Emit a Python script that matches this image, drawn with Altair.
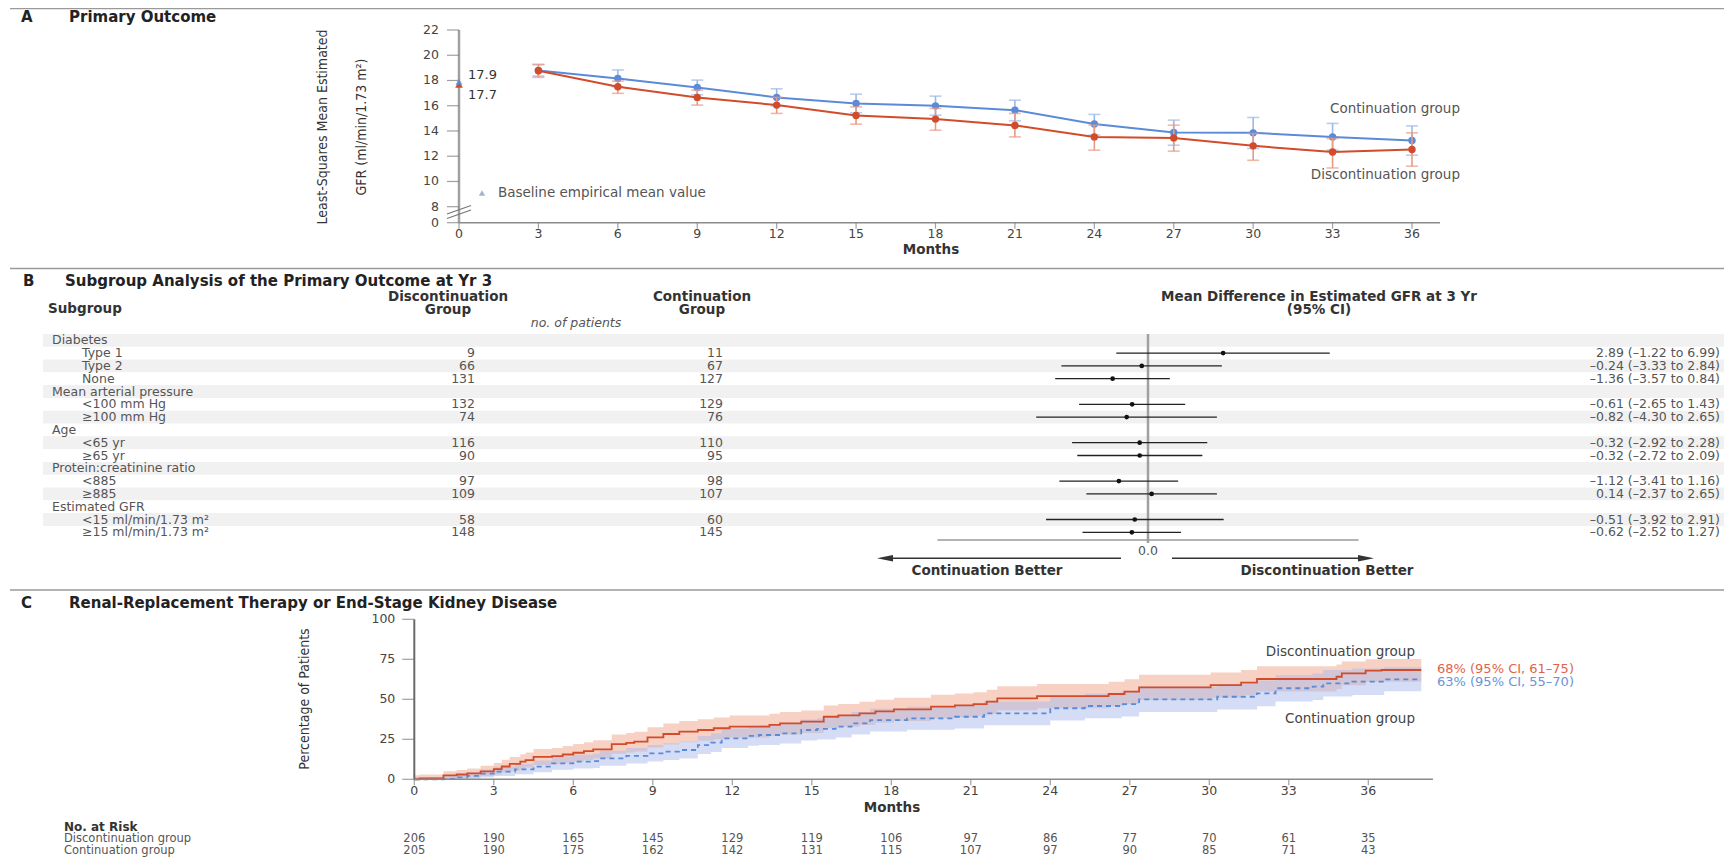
import altair as alt
import pandas as pd

FONT = "DejaVu Sans"
NARROW = "Liberation Sans Narrow, DejaVu Sans Condensed, sans-serif"

# ---------------- Panel A data ----------------
a_months = [3, 6, 9, 12, 15, 18, 21, 24, 27, 30, 33, 36]
a_cont = [18.80, 18.16, 17.45, 16.66, 16.18, 15.99, 15.65, 14.56, 13.88, 13.85, 13.53, 13.25]
a_cont_lo = [18.35, 17.50, 16.87, 15.98, 15.44, 15.25, 14.80, 13.67, 12.87, 12.61, 12.48, 12.08]
a_cont_hi = [19.25, 18.83, 18.03, 17.34, 16.92, 16.76, 16.44, 15.31, 14.86, 15.07, 14.60, 14.40]
a_disc = [18.77, 17.50, 16.66, 16.05, 15.23, 14.94, 14.44, 13.53, 13.45, 12.82, 12.34, 12.53]
a_disc_lo = [18.25, 16.98, 16.05, 15.39, 14.54, 14.06, 13.53, 12.48, 12.40, 11.68, 11.07, 11.21]
a_disc_hi = [19.28, 17.95, 17.24, 16.66, 15.91, 15.79, 15.39, 14.46, 14.46, 13.80, 13.40, 13.85]
a_base_cont = 17.9
a_base_disc = 17.7
a_xticks = [0, 3, 6, 9, 12, 15, 18, 21, 24, 27, 30, 33, 36]
a_yticks = [0, 8, 10, 12, 14, 16, 18, 20, 22]

# ---------------- Panel B data ----------------
b_labels = ["Diabetes", "Type 1", "Type 2", "None", "Mean arterial pressure",
            "<100 mm Hg", "\u2265100 mm Hg", "Age", "<65 yr", "\u226565 yr",
            "Protein:creatinine ratio", "<885", "\u2265885", "Estimated GFR",
            "<15 ml/min/1.73 m\u00b2", "\u226515 ml/min/1.73 m\u00b2"]
b_is_group = [1, 0, 0, 0, 1, 0, 0, 1, 0, 0, 1, 0, 0, 1, 0, 0]
b_n_disc = [None, 9, 66, 131, None, 132, 74, None, 116, 90, None, 97, 109, None, 58, 148]
b_n_cont = [None, 11, 67, 127, None, 129, 76, None, 110, 95, None, 98, 107, None, 60, 145]
b_md = [None, 2.89, -0.24, -1.36, None, -0.61, -0.82, None, -0.32, -0.32, None, -1.12, 0.14, None, -0.51, -0.62]
b_lo = [None, -1.22, -3.33, -3.57, None, -2.65, -4.30, None, -2.92, -2.72, None, -3.41, -2.37, None, -3.92, -2.52]
b_hi = [None, 6.99, 2.84, 0.84, None, 1.43, 2.65, None, 2.28, 2.09, None, 1.16, 2.65, None, 2.91, 1.27]

# ---------------- Panel C data ----------------
c_disc_t = [0, 0.2, 1.1, 1.6, 2.0, 2.5, 3.0, 3.3, 3.6, 4.0, 4.2, 4.5, 5.2, 5.6, 6.0, 6.4, 6.75, 7.45, 8.0, 8.3,
            8.8, 9.4, 10.0, 10.7, 11.3, 11.9, 13.4, 13.8, 14.6, 15.45, 16.0, 16.8, 17.4, 18.1, 19.5, 20.4, 21.1,
            21.6, 22.0, 23.5, 26.2, 26.8, 27.35, 30.05, 31.2, 31.8, 34.8, 35.0, 35.9, 36.5, 38.0]
c_disc_p = [0, 0.5, 2.5, 3.0, 3.7, 5.0, 6.4, 8.0, 9.6, 11.0, 12.0, 14.0, 14.5, 15.5, 16.6, 17.6, 18.7, 22.0, 22.8,
            23.5, 26.2, 28.3, 29.8, 30.8, 31.9, 32.9, 34.0, 35.0, 36.0, 39.1, 40.0, 41.2, 42.5, 43.7, 45.4, 46.2,
            47.0, 48.5, 50.6, 52.0, 53.3, 54.8, 57.5, 58.9, 60.4, 62.7, 64.1, 66.2, 67.9, 68.3, 68.3]
c_disc_lo = [0, 0, 0.5, 0.8, 1.2, 2.0, 3.0, 4.2, 5.4, 6.5, 7.3, 9.0, 9.4, 10.2, 11.1, 12.0, 13.0, 16.0, 16.7, 17.3,
             19.8, 21.8, 23.2, 24.1, 25.1, 26.0, 27.0, 28.0, 29.0, 32.0, 32.9, 34.0, 35.3, 36.4, 38.0, 38.8, 39.6,
             41.0, 43.1, 44.4, 45.6, 47.0, 49.6, 51.0, 52.5, 54.8, 56.4, 58.8, 60.8, 61.0, 61.0]
c_disc_hi = [2.5, 3.0, 5.0, 5.8, 6.8, 8.5, 10.2, 12.2, 14.0, 15.6, 16.8, 19.0, 19.6, 20.8, 22.0, 23.2, 24.4, 28.0,
             28.9, 29.7, 32.6, 34.8, 36.4, 37.5, 38.7, 39.8, 41.0, 42.0, 43.0, 46.2, 47.1, 48.4, 49.7, 51.0, 52.8,
             53.6, 54.4, 56.0, 58.1, 59.6, 61.0, 62.6, 65.4, 66.8, 68.3, 70.6, 71.8, 73.6, 75.0, 75.2, 75.2]
c_cont_t = [0, 1.1, 1.5, 2.0, 2.5, 3.0, 3.8, 4.5, 5.2, 6.0, 6.75, 7.0, 8.0, 8.8, 9.4, 10.0, 10.7, 11.2, 11.6, 12.6,
            13.0, 13.8, 14.6, 15.2, 15.9, 16.5, 17.2, 18.6, 20.4, 21.5, 24.0, 25.3, 26.7, 27.35, 30.3, 31.8, 32.5,
            33.9, 34.3, 35.4, 36.6, 38.0]
c_cont_p = [0, 0.3, 1.2, 2.1, 3.5, 4.8, 6.2, 7.9, 10.0, 11.0, 11.4, 13.1, 14.6, 16.2, 17.3, 18.3, 21.4, 22.9, 25.6,
            27.1, 27.7, 28.7, 30.8, 31.5, 32.9, 35.0, 37.0, 38.1, 39.1, 41.2, 44.4, 45.8, 47.0, 50.0, 51.6, 53.7,
            56.9, 57.9, 60.0, 61.0, 62.5, 62.5]
c_cont_lo = [0, 0, 0, 0.4, 1.2, 2.1, 3.1, 4.4, 6.0, 6.8, 7.1, 8.5, 9.8, 11.2, 12.1, 13.0, 15.8, 17.1, 19.5, 20.9,
             21.4, 22.3, 24.2, 24.8, 26.1, 28.0, 29.9, 30.9, 31.8, 33.8, 36.8, 38.1, 39.2, 42.1, 43.6, 45.6, 48.7,
             49.6, 51.7, 52.7, 55.0, 55.0]
c_cont_hi = [1.5, 2.0, 3.0, 4.4, 6.2, 7.8, 9.6, 11.7, 14.2, 15.4, 15.9, 17.9, 19.6, 21.4, 22.6, 23.7, 27.1, 28.8,
             31.7, 33.4, 34.0, 35.1, 37.4, 38.2, 39.7, 42.0, 44.1, 45.3, 46.4, 48.6, 52.0, 53.5, 54.8, 57.9, 59.6,
             61.8, 65.1, 66.2, 68.3, 69.3, 70.0, 70.0]
c_xticks = [0, 3, 6, 9, 12, 15, 18, 21, 24, 27, 30, 33, 36]
c_yticks = [0, 25, 50, 75, 100]
risk_months = [0, 3, 6, 9, 12, 15, 18, 21, 24, 27, 30, 33, 36]
risk_disc = [206, 190, 165, 145, 129, 119, 106, 97, 86, 77, 70, 61, 35]
risk_cont = [205, 190, 175, 162, 142, 131, 115, 107, 97, 90, 85, 71, 43]

# ---------------- layout helpers ----------------
W, H = 1716, 849
OX, OY = 8, 8


def px(v):
    return v - OX


def py(v):
    return v - OY


RED = "#d24b2a"
BLUE = "#5a8bd8"
RED_BAR = "#e89a85"
BLUE_BAR = "#9db8e6"
AX = "#8a8a8a"
TXT = "#333333"
GRAY = "#555555"

xA = alt.Scale(domain=[0, 36], range=[px(459), px(1412)], nice=False, zero=False)
yA = alt.Scale(domain=[0, 8, 22], range=[py(222.7), py(206.7), py(30)], nice=False, zero=False)
yB = alt.Scale(domain=[0, 15], range=[py(340.3), py(532.3)], nice=False, zero=False)
xB = alt.Scale(domain=[-8, 8], range=[px(940), px(1356)], nice=False, zero=False)
xC = alt.Scale(domain=[0, 36], range=[px(414.3), px(1368.3)], nice=False, zero=False)
yC = alt.Scale(domain=[0, 100], range=[py(779.3), py(619.3)], nice=False, zero=False)


def txt(s, x, y, size=13, weight="normal", color=TXT, align="left", angle=0, font=FONT, style="normal"):
    df = pd.DataFrame({"t": [s]})
    return alt.Chart(df).mark_text(
        align=align, baseline="middle", fontSize=size, fontWeight=weight, color=color,
        angle=angle, font=font, fontStyle=style
    ).encode(text="t:N", x=alt.value(px(x)), y=alt.value(py(y)))


def seg(x1, y1, x2, y2, color=AX, w=1.5):
    df = pd.DataFrame({"k": [0]})
    return alt.Chart(df).mark_rule(color=color, strokeWidth=w).encode(
        x=alt.value(px(x1)), x2=alt.value(px(x2)), y=alt.value(py(y1)), y2=alt.value(py(y2)))


def fmt(v):
    return f"{v:.2f}".replace("-", "\u2013")


layers = []

# separators
layers.append(seg(10, 8.6, 1732, 8.6, color="#9a9a9a", w=1.4))
layers.append(seg(10, 268.5, 1732, 268.5, color="#9a9a9a", w=1.4))
layers.append(seg(10, 590, 1732, 590, color="#9a9a9a", w=1.4))

# ================= PANEL A =================
layers.append(txt("A", 21, 17, size=15, weight="bold", color="#222222"))
layers.append(txt("Primary Outcome", 69, 17, size=15, weight="bold", color="#222222"))

# axes
axA = pd.DataFrame({"x0": [0], "x1": [37.06], "y0": [0], "y1": [22]})
layers.append(alt.Chart(axA).mark_rule(color="#a0a0a0", strokeWidth=2.5).encode(
    x=alt.X("x0:Q", scale=xA, axis=None), y=alt.Y("y0:Q", scale=yA, axis=None), y2="y1:Q"))
layers.append(alt.Chart(axA).mark_rule(color=AX, strokeWidth=1.5).encode(
    x=alt.X("x0:Q", scale=xA, axis=None), x2="x1:Q", y=alt.Y("y0:Q", scale=yA, axis=None)))

dfAx = pd.DataFrame({"m": a_xticks, "b": [0] * len(a_xticks), "lab": [str(v) for v in a_xticks]})
layers.append(alt.Chart(dfAx).mark_tick(orient="vertical", size=6, thickness=1.2, color="#777777", yOffset=3).encode(
    x=alt.X("m:Q", scale=xA, axis=None), y=alt.Y("b:Q", scale=yA, axis=None)))
layers.append(alt.Chart(dfAx).mark_text(fontSize=12.5, font=FONT, color="#444444", baseline="middle", dy=11).encode(
    x=alt.X("m:Q", scale=xA, axis=None), y=alt.Y("b:Q", scale=yA, axis=None), text="lab:N"))

dfAy = pd.DataFrame({"v": a_yticks, "b": [0] * len(a_yticks), "lab": [str(v) for v in a_yticks]})
layers.append(alt.Chart(dfAy).mark_tick(orient="horizontal", size=12, thickness=1.2, color="#777777", xOffset=-6).encode(
    x=alt.X("b:Q", scale=xA, axis=None), y=alt.Y("v:Q", scale=yA, axis=None)))
layers.append(alt.Chart(dfAy).mark_text(fontSize=12.5, font=FONT, color="#444444", align="right", baseline="middle", dx=-20).encode(
    x=alt.X("b:Q", scale=xA, axis=None), y=alt.Y("v:Q", scale=yA, axis=None), text="lab:N"))

# axis break marks
layers.append(seg(447, 214, 471, 205.5, color="#777777", w=1.3))
layers.append(seg(447, 218.5, 471, 210, color="#777777", w=1.3))

# axis titles
layers.append(txt("Least-Squares Mean Estimated", 323, 127, size=14, angle=270, font=NARROW, align="center"))
layers.append(txt("GFR (ml/min/1.73 m\u00b2)", 362, 127, size=14, angle=270, font=NARROW, align="center"))
layers.append(txt("Months", 931, 250, size=13.5, weight="bold", align="center"))


def a_series(mean, lo, hi, line_color, bar_color):
    df = pd.DataFrame({"m": a_months, "v": mean, "lo": lo, "hi": hi})
    base = alt.Chart(df)
    xenc = alt.X("m:Q", scale=xA, axis=None)
    out = [
        base.mark_rule(color=bar_color, strokeWidth=1.6).encode(
            x=xenc, y=alt.Y("lo:Q", scale=yA, axis=None), y2="hi:Q"),
        base.mark_tick(orient="horizontal", size=12, thickness=1.6, color=bar_color).encode(
            x=xenc, y=alt.Y("lo:Q", scale=yA, axis=None)),
        base.mark_tick(orient="horizontal", size=12, thickness=1.6, color=bar_color).encode(
            x=xenc, y=alt.Y("hi:Q", scale=yA, axis=None)),
        base.mark_line(color=line_color, strokeWidth=2).encode(
            x=xenc, y=alt.Y("v:Q", scale=yA, axis=None)),
        base.mark_point(filled=True, shape="circle", size=55, color=line_color, opacity=1).encode(
            x=xenc, y=alt.Y("v:Q", scale=yA, axis=None)),
    ]
    return out


layers += a_series(a_cont, a_cont_lo, a_cont_hi, BLUE, BLUE_BAR)
layers += a_series(a_disc, a_disc_lo, a_disc_hi, RED, RED_BAR)

dfBase2 = pd.DataFrame({"m": [0], "v": [a_base_disc]})
layers.append(alt.Chart(dfBase2).mark_point(filled=True, shape="triangle-up", size=60, color=RED, opacity=1).encode(
    x=alt.X("m:Q", scale=xA, axis=None), y=alt.Y("v:Q", scale=yA, axis=None)))
dfBase = pd.DataFrame({"m": [0], "v": [a_base_cont]})
layers.append(alt.Chart(dfBase).mark_point(filled=True, shape="triangle-up", size=45, color=BLUE, opacity=0.9).encode(
    x=alt.X("m:Q", scale=xA, axis=None), y=alt.Y("v:Q", scale=yA, axis=None)))

layers.append(txt("17.9", 468, 75, size=13))
layers.append(txt("17.7", 468, 95, size=13))
layers.append(txt("Continuation group", 1460, 109, size=13.5, color=GRAY, align="right"))
layers.append(txt("Discontinuation group", 1460, 175, size=13.5, color=GRAY, align="right"))

dfLeg = pd.DataFrame({"k": [0]})
layers.append(alt.Chart(dfLeg).mark_point(filled=True, shape="triangle-up", size=40, color="#a5b4c8", opacity=1).encode(
    x=alt.value(px(482)), y=alt.value(py(193))))
layers.append(txt("Baseline empirical mean value", 498, 193, size=13.5, color=GRAY))

# ================= PANEL B =================
layers.append(txt("B", 23, 281, size=15, weight="bold", color="#222222"))
layers.append(txt("Subgroup Analysis of the Primary Outcome at Yr 3", 65, 281, size=15, weight="bold", color="#222222"))
layers.append(txt("Subgroup", 48, 309, size=13.5, weight="bold"))
layers.append(txt("Discontinuation", 448, 296.5, size=13.5, weight="bold", align="center"))
layers.append(txt("Group", 448, 310, size=13.5, weight="bold", align="center"))
layers.append(txt("Continuation", 702, 296.5, size=13.5, weight="bold", align="center"))
layers.append(txt("Group", 702, 310, size=13.5, weight="bold", align="center"))
layers.append(txt("no. of patients", 576, 323, size=12.5, color=GRAY, align="center", style="italic"))
layers.append(txt("Mean Difference in Estimated GFR at 3 Yr", 1319, 296.5, size=13.5, weight="bold", align="center"))
layers.append(txt("(95% CI)", 1319, 310, size=13.5, weight="bold", align="center"))

rows = list(range(len(b_labels)))
dfShade = pd.DataFrame({"r": [r for r in rows if r % 2 == 0]})
layers.append(alt.Chart(dfShade).transform_calculate(r0="datum.r - 0.5", r1="datum.r + 0.5").mark_rect(
    color="#f1f1f1").encode(
    x=alt.value(px(43)), x2=alt.value(px(1730)),
    y=alt.Y("r0:Q", scale=yB, axis=None), y2="r1:Q"))

dfGroups = pd.DataFrame({"r": [r for r in rows if b_is_group[r]],
                         "label": [b_labels[r] for r in rows if b_is_group[r]]})
dfItems = pd.DataFrame({
    "r": [r for r in rows if not b_is_group[r]],
    "label": [b_labels[r] for r in rows if not b_is_group[r]],
    "nd": [str(b_n_disc[r]) for r in rows if not b_is_group[r]],
    "nc": [str(b_n_cont[r]) for r in rows if not b_is_group[r]],
    "md": [b_md[r] for r in rows if not b_is_group[r]],
    "lo": [b_lo[r] for r in rows if not b_is_group[r]],
    "hi": [b_hi[r] for r in rows if not b_is_group[r]],
    "ci": [f"{fmt(b_md[r])} ({fmt(b_lo[r])} to {fmt(b_hi[r])})" for r in rows if not b_is_group[r]],
})

yrow = alt.Y("r:Q", scale=yB, axis=None)
layers.append(alt.Chart(dfGroups).mark_text(align="left", baseline="middle", fontSize=12.5, font=FONT, color=GRAY).encode(
    x=alt.value(px(52)), y=yrow, text="label:N"))
layers.append(alt.Chart(dfItems).mark_text(align="left", baseline="middle", fontSize=12.5, font=FONT, color=GRAY).encode(
    x=alt.value(px(82)), y=yrow, text="label:N"))
layers.append(alt.Chart(dfItems).mark_text(align="right", baseline="middle", fontSize=12.5, font=FONT, color=GRAY).encode(
    x=alt.value(px(475)), y=yrow, text="nd:N"))
layers.append(alt.Chart(dfItems).mark_text(align="right", baseline="middle", fontSize=12.5, font=FONT, color=GRAY).encode(
    x=alt.value(px(723)), y=yrow, text="nc:N"))
layers.append(alt.Chart(dfItems).mark_text(align="right", baseline="middle", fontSize=12.5, font=FONT, color=GRAY).encode(
    x=alt.value(px(1720)), y=yrow, text="ci:N"))

# forest plot
dfZero = pd.DataFrame({"x": [0], "a": [-8.1], "b": [8.1], "t": ["0.0"]})
layers.append(alt.Chart(dfZero).mark_rule(color="#a0a0a0", strokeWidth=2.5).encode(
    x=alt.X("x:Q", scale=xB, axis=None), y=alt.value(py(334)), y2=alt.value(py(543))))
layers.append(alt.Chart(dfZero).mark_rule(color="#9a9a9a", strokeWidth=1.3).encode(
    x=alt.X("a:Q", scale=xB, axis=None), x2="b:Q", y=alt.value(py(540))))
layers.append(alt.Chart(dfZero).mark_text(fontSize=12.5, font=FONT, color=GRAY, baseline="middle").encode(
    x=alt.X("x:Q", scale=xB, axis=None), y=alt.value(py(551)), text="t:N"))

layers.append(alt.Chart(dfItems).mark_rule(color="#222222", strokeWidth=1.3).encode(
    x=alt.X("lo:Q", scale=xB, axis=None), x2="hi:Q", y=yrow))
layers.append(alt.Chart(dfItems).mark_point(filled=True, shape="circle", size=22, color="#111111", opacity=1).encode(
    x=alt.X("md:Q", scale=xB, axis=None), y=yrow))

# arrows
layers.append(seg(1121, 558.3, 884, 558.3, color="#333333", w=1.5))
layers.append(seg(1172, 558.3, 1367, 558.3, color="#333333", w=1.5))
layers.append(alt.Chart(dfLeg).mark_point(filled=True, shape="M-1,0L1,-0.4L1,0.4Z", size=256, color="#333333", opacity=1).encode(
    x=alt.value(px(885)), y=alt.value(py(558.3))))
layers.append(alt.Chart(dfLeg).mark_point(filled=True, shape="M1,0L-1,-0.4L-1,0.4Z", size=256, color="#333333", opacity=1).encode(
    x=alt.value(px(1366)), y=alt.value(py(558.3))))
layers.append(txt("Continuation Better", 987, 571, size=13.5, weight="bold", align="center"))
layers.append(txt("Discontinuation Better", 1327, 571, size=13.5, weight="bold", align="center"))

# ================= PANEL C =================
layers.append(txt("C", 21, 603, size=15, weight="bold", color="#222222"))
layers.append(txt("Renal-Replacement Therapy or End-Stage Kidney Disease", 69, 603, size=15, weight="bold", color="#222222"))

dfCd = pd.DataFrame({"t": c_disc_t, "p": c_disc_p, "lo": c_disc_lo, "hi": c_disc_hi})
dfCc = pd.DataFrame({"t": c_cont_t, "p": c_cont_p, "lo": c_cont_lo, "hi": c_cont_hi})
xt = alt.X("t:Q", scale=xC, axis=None)
layers.append(alt.Chart(dfCd).mark_area(interpolate="step-after", color="#f0a48a", opacity=0.5).encode(
    x=xt, y=alt.Y("lo:Q", scale=yC, axis=None), y2="hi:Q"))
layers.append(alt.Chart(dfCc).mark_area(interpolate="step-after", color="#a9bcec", opacity=0.5).encode(
    x=xt, y=alt.Y("lo:Q", scale=yC, axis=None), y2="hi:Q"))
layers.append(alt.Chart(dfCc).mark_line(interpolate="step-after", color=BLUE, strokeWidth=1.8, strokeDash=[5, 4]).encode(
    x=xt, y=alt.Y("p:Q", scale=yC, axis=None)))
layers.append(alt.Chart(dfCd).mark_line(interpolate="step-after", color=RED, strokeWidth=1.8).encode(
    x=xt, y=alt.Y("p:Q", scale=yC, axis=None)))

axC = pd.DataFrame({"x0": [0], "x1": [38.44], "y0": [0], "y1": [100]})
layers.append(alt.Chart(axC).mark_rule(color="#6a6a6a", strokeWidth=2).encode(
    x=alt.X("x0:Q", scale=xC, axis=None), y=alt.Y("y0:Q", scale=yC, axis=None), y2="y1:Q"))
layers.append(alt.Chart(axC).mark_rule(color=AX, strokeWidth=1.5).encode(
    x=alt.X("x0:Q", scale=xC, axis=None), x2="x1:Q", y=alt.Y("y0:Q", scale=yC, axis=None)))

dfCx = pd.DataFrame({"m": c_xticks, "b": [0] * len(c_xticks), "lab": [str(v) for v in c_xticks]})
layers.append(alt.Chart(dfCx).mark_tick(orient="vertical", size=6, thickness=1.2, color="#777777", yOffset=3).encode(
    x=alt.X("m:Q", scale=xC, axis=None), y=alt.Y("b:Q", scale=yC, axis=None)))
layers.append(alt.Chart(dfCx).mark_text(fontSize=12.5, font=FONT, color="#444444", baseline="middle", dy=11.5).encode(
    x=alt.X("m:Q", scale=xC, axis=None), y=alt.Y("b:Q", scale=yC, axis=None), text="lab:N"))
dfCy = pd.DataFrame({"v": c_yticks, "b": [0] * len(c_yticks), "lab": [str(v) for v in c_yticks]})
layers.append(alt.Chart(dfCy).mark_tick(orient="horizontal", size=12, thickness=1.2, color="#777777", xOffset=-6).encode(
    x=alt.X("b:Q", scale=xC, axis=None), y=alt.Y("v:Q", scale=yC, axis=None)))
layers.append(alt.Chart(dfCy).mark_text(fontSize=12.5, font=FONT, color="#444444", align="right", baseline="middle", dx=-19).encode(
    x=alt.X("b:Q", scale=xC, axis=None), y=alt.Y("v:Q", scale=yC, axis=None), text="lab:N"))

layers.append(txt("Percentage of Patients", 305, 699, size=14, angle=270, font=NARROW, align="center"))
layers.append(txt("Months", 892, 808, size=13.5, weight="bold", align="center"))

layers.append(txt("Discontinuation group", 1415, 652, size=13.5, color="#444444", align="right"))
layers.append(txt("Continuation group", 1415, 719, size=13.5, color="#444444", align="right"))
layers.append(txt("68% (95% CI, 61\u201375)", 1437, 669, size=13, color="#e0644a"))
layers.append(txt("63% (95% CI, 55\u201370)", 1437, 682, size=13, color="#6b93d9"))

layers.append(txt("No. at Risk", 64, 826.5, size=12, weight="bold"))
layers.append(txt("Discontinuation group", 64, 838.5, size=11.5, color=GRAY))
layers.append(txt("Continuation group", 64, 850.5, size=11.5, color=GRAY))
dfRisk = pd.DataFrame({"m": risk_months, "d": [str(v) for v in risk_disc], "c": [str(v) for v in risk_cont]})
layers.append(alt.Chart(dfRisk).mark_text(fontSize=11.5, font=FONT, color=GRAY, baseline="middle").encode(
    x=alt.X("m:Q", scale=xC, axis=None), y=alt.value(py(838.5)), text="d:N"))
layers.append(alt.Chart(dfRisk).mark_text(fontSize=11.5, font=FONT, color=GRAY, baseline="middle").encode(
    x=alt.X("m:Q", scale=xC, axis=None), y=alt.value(py(850.5)), text="c:N"))

chart = alt.layer(*layers).resolve_scale(x="independent", y="independent").properties(
    width=W, height=H, padding=0, autosize=alt.AutoSizeParams(type="none")
).configure_view(stroke=None)

chart.save("out.html", embed_options={"renderer": "svg", "actions": False})
